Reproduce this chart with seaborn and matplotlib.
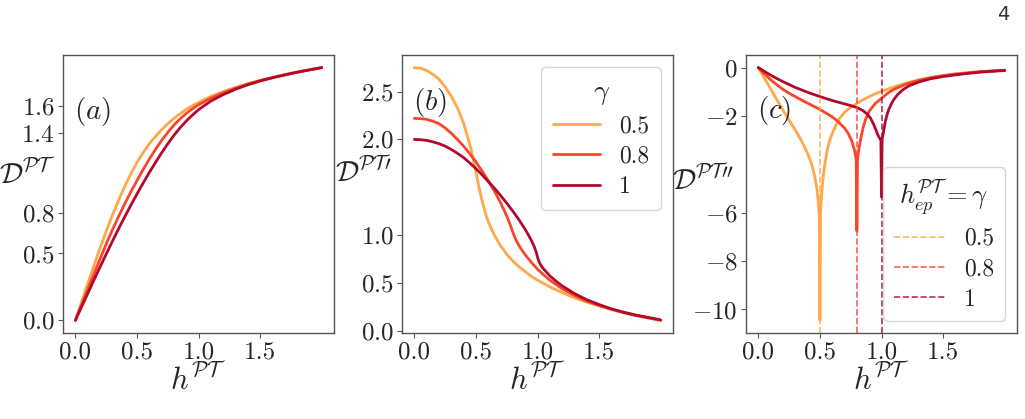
import matplotlib
matplotlib.use("Agg")
import matplotlib.pyplot as plt
import seaborn as sns
import pandas as pd

# ---- data ----
gammas = ["0.5", "0.8", "1"]
colors = ["#FEA84A", "#F9462A", "#B00A2C"]

# (a) D^PT
h_a = [0, 0.05, 0.1, 0.15, 0.2, 0.25, 0.3, 0.35, 0.4, 0.45, 0.5, 0.55, 0.6, 0.65, 0.7, 0.75,
       0.8, 0.85, 0.9, 0.95, 1.0, 1.1, 1.2, 1.3, 1.4, 1.5, 1.6, 1.7, 1.8, 1.9, 2.0]
Da_05 = [0, 0.137, 0.273, 0.408, 0.54, 0.665, 0.785, 0.895, 1.0, 1.095, 1.18, 1.255, 1.32, 1.375,
         1.425, 1.47, 1.51, 1.545, 1.578, 1.605, 1.63, 1.675, 1.71, 1.742, 1.77, 1.795, 1.817,
         1.838, 1.857, 1.874, 1.89]
Da_08 = [0, 0.115, 0.23, 0.345, 0.458, 0.57, 0.675, 0.775, 0.87, 0.96, 1.045, 1.128, 1.205, 1.278,
         1.345, 1.405, 1.46, 1.507, 1.547, 1.582, 1.612, 1.662, 1.702, 1.736, 1.766, 1.792, 1.815,
         1.836, 1.856, 1.873, 1.89]
Da_10 = [0, 0.1, 0.2, 0.3, 0.398, 0.495, 0.59, 0.683, 0.773, 0.86, 0.944, 1.026, 1.105, 1.18,
         1.252, 1.32, 1.383, 1.44, 1.49, 1.535, 1.575, 1.64, 1.688, 1.728, 1.762, 1.79, 1.814,
         1.835, 1.855, 1.873, 1.89]

# (b) D^PT'
hb_05 = [0, 0.05, 0.1, 0.15, 0.2, 0.25, 0.3, 0.35, 0.4, 0.45, 0.475, 0.5, 0.525, 0.55, 0.575,
         0.6, 0.65, 0.7, 0.75, 0.8, 0.85, 0.9, 0.95, 1.0, 1.1, 1.2, 1.3, 1.4, 1.5, 1.6, 1.7,
         1.8, 1.9, 2.0]
Db_05 = [2.75, 2.745, 2.72, 2.68, 2.63, 2.55, 2.45, 2.33, 2.17, 1.95, 1.82, 1.66, 1.50, 1.36, 1.24,
         1.14, 1.00, 0.89, 0.80, 0.73, 0.67, 0.62, 0.57, 0.53, 0.46, 0.40, 0.345, 0.30, 0.26,
         0.225, 0.19, 0.16, 0.135, 0.11]
hb_08 = [0, 0.05, 0.1, 0.15, 0.2, 0.25, 0.3, 0.35, 0.4, 0.45, 0.5, 0.55, 0.6, 0.65, 0.7, 0.725,
         0.75, 0.775, 0.8, 0.825, 0.85, 0.875, 0.9, 0.95, 1.0, 1.05, 1.1, 1.2, 1.3, 1.4, 1.5,
         1.6, 1.7, 1.8, 1.9, 2.0]
Db_08 = [2.22, 2.217, 2.21, 2.19, 2.165, 2.12, 2.065, 2.0, 1.93, 1.85, 1.765, 1.67, 1.57, 1.46,
         1.34, 1.27, 1.20, 1.12, 1.03, 0.95, 0.89, 0.84, 0.795, 0.715, 0.645, 0.585, 0.53, 0.44,
         0.37, 0.31, 0.265, 0.225, 0.19, 0.16, 0.135, 0.11]
hb_10 = [0, 0.05, 0.1, 0.15, 0.2, 0.25, 0.3, 0.35, 0.4, 0.45, 0.5, 0.55, 0.6, 0.65, 0.7, 0.75,
         0.8, 0.85, 0.9, 0.925, 0.95, 0.975, 0.99, 1.0, 1.01, 1.025, 1.05, 1.1, 1.15, 1.2, 1.3,
         1.4, 1.5, 1.6, 1.7, 1.8, 1.9, 2.0]
Db_10 = [2.0, 1.997, 1.99, 1.975, 1.955, 1.93, 1.895, 1.855, 1.81, 1.755, 1.695, 1.63, 1.56, 1.49,
         1.415, 1.335, 1.25, 1.16, 1.06, 1.005, 0.945, 0.875, 0.82, 0.77, 0.73, 0.69, 0.645,
         0.575, 0.52, 0.47, 0.39, 0.325, 0.275, 0.23, 0.195, 0.165, 0.14, 0.115]

# (c) D^PT''
hc_05 = [0, 0.05, 0.1, 0.15, 0.2, 0.25, 0.3, 0.35, 0.4, 0.42, 0.44, 0.46, 0.475, 0.485, 0.495,
         0.5, 0.505, 0.515, 0.525, 0.54, 0.56, 0.58, 0.6, 0.63, 0.66, 0.7, 0.75, 0.8, 0.85, 0.9,
         0.95, 1.0, 1.1, 1.2, 1.3, 1.4, 1.5, 1.6, 1.7, 1.8, 1.9, 2.0]
Dc_05 = [0, -0.44, -0.88, -1.32, -1.76, -2.18, -2.58, -3.02, -3.55, -3.8, -4.12, -4.55, -5.0,
         -5.45, -6.1, -10.45, -6.0, -5.2, -4.6, -4.0, -3.4, -3.0, -2.72, -2.38, -2.1, -1.85, -1.65,
         -1.48, -1.33, -1.2, -1.08, -0.98, -0.8, -0.64, -0.51, -0.4, -0.32, -0.26, -0.21, -0.17,
         -0.14, -0.11]
hc_08 = [0, 0.05, 0.1, 0.15, 0.2, 0.25, 0.3, 0.35, 0.4, 0.45, 0.5, 0.55, 0.6, 0.65, 0.7, 0.73,
         0.76, 0.78, 0.79, 0.795, 0.8, 0.805, 0.81, 0.82, 0.835, 0.85, 0.87, 0.9, 0.95, 1.0, 1.05,
         1.1, 1.2, 1.3, 1.4, 1.5, 1.6, 1.7, 1.8, 1.9, 2.0]
Dc_08 = [0, -0.26, -0.5, -0.71, -0.9, -1.06, -1.2, -1.34, -1.47, -1.6, -1.73, -1.88, -2.04, -2.24,
         -2.5, -2.72, -3.05, -3.4, -3.65, -3.85, -6.75, -3.85, -3.6, -3.25, -2.85, -2.5, -2.15,
         -1.8, -1.48, -1.27, -1.06, -0.9, -0.68, -0.53, -0.42, -0.34, -0.27, -0.22, -0.17, -0.14,
         -0.11]
hc_10 = [0, 0.05, 0.1, 0.15, 0.2, 0.25, 0.3, 0.35, 0.4, 0.45, 0.5, 0.55, 0.6, 0.65, 0.7, 0.75,
         0.8, 0.85, 0.88, 0.91, 0.935, 0.955, 0.97, 0.985, 0.995, 1.0, 1.005, 1.015, 1.03, 1.045,
         1.06, 1.08, 1.1, 1.13, 1.17, 1.22, 1.3, 1.4, 1.5, 1.6, 1.7, 1.8, 1.9, 2.0]
Dc_10 = [0, -0.16, -0.31, -0.45, -0.58, -0.7, -0.82, -0.92, -1.02, -1.11, -1.2, -1.28, -1.36,
         -1.43, -1.5, -1.57, -1.65, -1.78, -1.9, -2.08, -2.33, -2.58, -2.78, -2.92, -3.0, -5.35,
         -2.95, -2.7, -2.25, -1.95, -1.72, -1.5, -1.32, -1.12, -0.93, -0.76, -0.6, -0.46, -0.37,
         -0.3, -0.24, -0.19, -0.15, -0.12]

ep_points = [0.5, 0.8, 1.0]


def long_df(xs, ys):
    parts = [pd.DataFrame({"h": x, "D": y, "gamma": g}) for x, y, g in zip(xs, ys, gammas)]
    return pd.concat(parts, ignore_index=True)


df_a = long_df([h_a, h_a, h_a], [Da_05, Da_08, Da_10])
df_b = long_df([hb_05, hb_08, hb_10], [Db_05, Db_08, Db_10])
df_c = long_df([hc_05, hc_08, hc_10], [Dc_05, Dc_08, Dc_10])

# ---- style ----
sns.set_style("ticks")
plt.rcParams["font.family"] = "serif"
plt.rcParams["font.serif"] = ["cmr10", "DejaVu Serif"]
plt.rcParams["mathtext.fontset"] = "cm"
plt.rcParams["axes.formatter.use_mathtext"] = True
plt.rcParams["axes.unicode_minus"] = True

pal = dict(zip(gammas, colors))

fig = plt.figure(figsize=(10.25, 4.19), dpi=100)
lefts = [0.0615, 0.3922, 0.7278]
axes = [fig.add_axes([l, 0.2053, 0.2644, 0.6635]) for l in lefts]

ylabels = [r"$\mathcal{D}^{\mathcal{PT}}$", r"$\mathcal{D}^{\mathcal{PT}\prime}$",
           r"$\mathcal{D}^{\mathcal{PT}\prime\prime}$"]
ylab_x = [-0.025, -0.035, -0.045]
ylab_y = [0.57, 0.58, 0.55]
tags = [r"$(a)$", r"$(b)$", r"$(c)$"]
tag_y = [0.795, 0.83, 0.80]
yticks = [[0.0, 0.5, 0.8, 1.4, 1.6], [0.0, 0.5, 1.0, 2.0, 2.5], [0, -2, -6, -8, -10]]

for i, (ax, df) in enumerate(zip(axes, [df_a, df_b, df_c])):
    sns.lineplot(data=df, x="h", y="D", hue="gamma", palette=pal, hue_order=gammas,
                 estimator=None, errorbar=None, linewidth=2.0, ax=ax, legend=(i == 1))
    ax.set_xticks([0, 0.5, 1.0, 1.5])
    ax.set_xticklabels(["0.0", "0.5", "1.0", "1.5"])
    ax.set_yticks(yticks[i])
    ax.tick_params(labelsize=18, length=3.5, color="#555555", pad=2.5)
    ax.set_xlabel(r"$h^{\mathcal{PT}}$", fontsize=22, labelpad=-1)
    ax.set_ylabel(ylabels[i], fontsize=21, rotation=0, ha="right", va="center")
    ax.yaxis.set_label_coords(ylab_x[i], ylab_y[i])
    ax.text(0.04, tag_y[i], tags[i], transform=ax.transAxes, fontsize=21,
            ha="left", va="center")
    for s in ax.spines.values():
        s.set_color("#555555")
        s.set_linewidth(1.0)

# legend of panel (b)
sns.move_legend(axes[1], "upper right", title=r"$\gamma$", fontsize=17, title_fontsize=20,
                frameon=True, borderpad=0.5, labelspacing=0.35)
for line in axes[1].get_legend().get_lines():
    line.set_linewidth(2.0)

# exceptional points in panel (c)
for x0, c, g in zip(ep_points, colors, gammas):
    axes[2].axvline(x0, color=c, linestyle="--", linewidth=1.2, alpha=0.85, label=g)
handles, labels = axes[2].get_legend_handles_labels()
axes[2].legend(handles[-3:], labels[-3:], loc="lower right",
               title=r"$h_{ep}^{\mathcal{PT}}=\gamma$", fontsize=17, title_fontsize=19,
               borderpad=0.45, labelspacing=0.35, handlelength=2.2)

fig.text(0.985, 0.965, "4", fontsize=14, family="DejaVu Sans", ha="right", va="center",
         color="#333333")

fig.savefig("out.png", dpi=100)
